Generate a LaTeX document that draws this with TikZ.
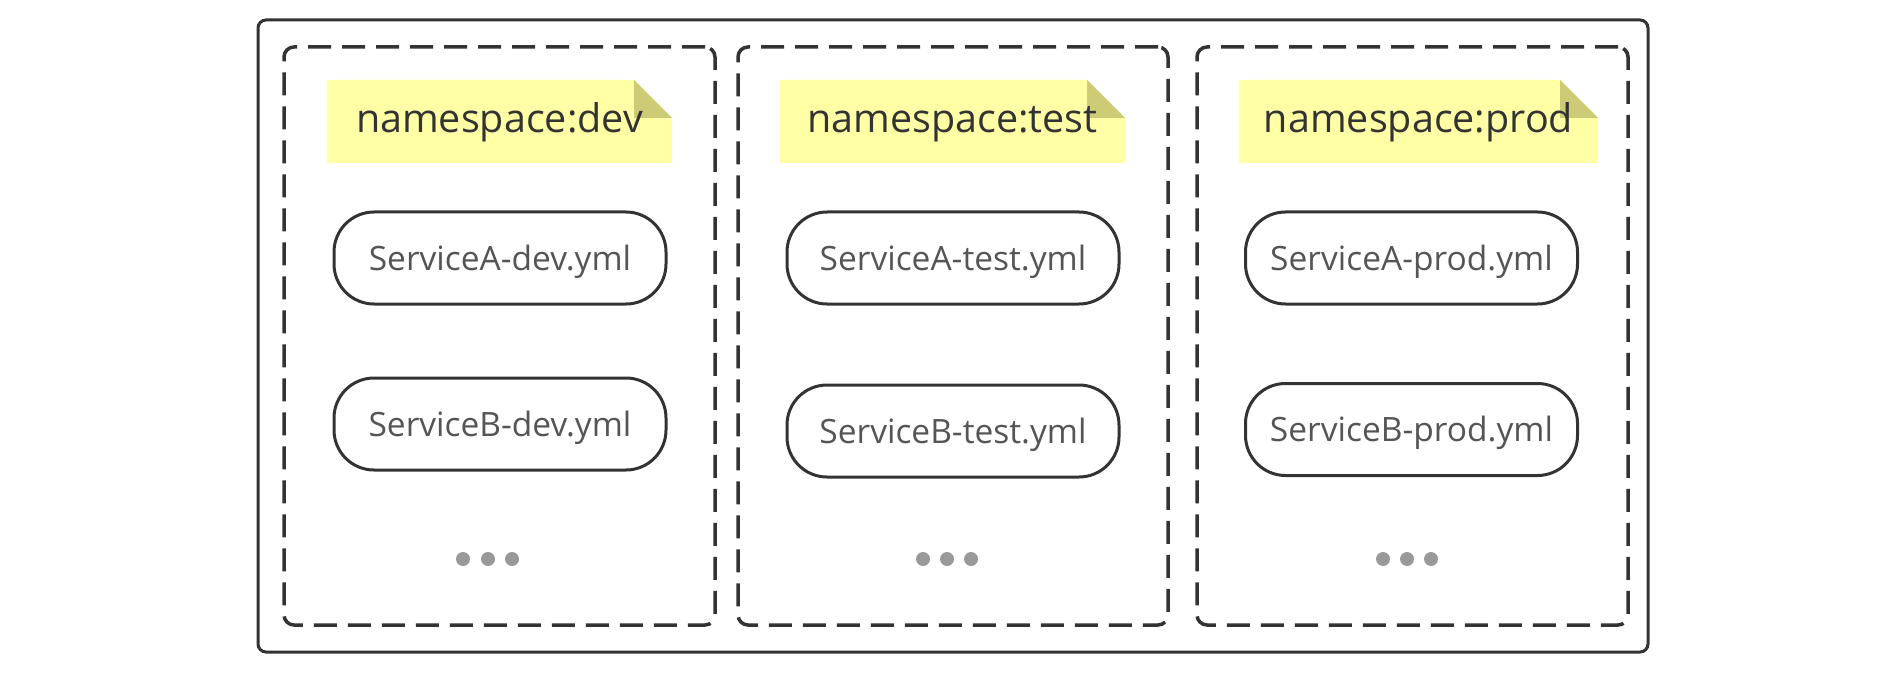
\documentclass[tikz,border=0pt]{standalone}
\usepackage{fontspec}
\setmainfont{Open Sans}
\definecolor{linec}{HTML}{333333}
\definecolor{notey}{HTML}{FFFFA6}
\definecolor{foldc}{HTML}{CCCC77}
\definecolor{dotc}{HTML}{999999}
\definecolor{txtc}{HTML}{555555}
\begin{document}
\begin{tikzpicture}[x=1pt,y=-1pt,
  outerbox/.style={draw=linec,line width=3pt,rounded corners=8pt},
  nsbox/.style={draw=linec,line width=3.5pt,rounded corners=10pt,dash pattern=on 23pt off 11pt},
  notebox/.style={inner sep=0pt,text height=21pt,text depth=0pt,
    font=\fontsize{39.5}{44}\selectfont,text=linec},
  pill/.style={draw=linec,line width=3pt,rounded corners=40pt,minimum width=332pt,minimum height=92pt,
    inner sep=0pt,text height=24pt,text depth=0pt,font=\fontsize{33.5}{38}\selectfont,text=txtc},
  dotn/.style={circle,fill=dotc,inner sep=0pt,minimum size=14pt}
]
\useasboundingbox (0,0) rectangle (1882,687);
\fill[white] (0,0) rectangle (1882,687);
\node[outerbox,minimum width=1390pt,minimum height=632pt,inner sep=0pt] (outer) at (953,336) {};
% namespace boxes
\node[nsbox,minimum width=431pt,minimum height=578pt,inner sep=0pt] (bdev) at (499.5,336) {};
\node[nsbox,minimum width=430pt,minimum height=578pt,inner sep=0pt] (btest) at (953,336) {};
\node[nsbox,minimum width=431pt,minimum height=578pt,inner sep=0pt] (bprod) at (1412.5,336) {};
% note backgrounds
\foreach \cx/\hw in {499.5/172.5, 952.5/172.5, 1418.5/179.5}{
  \fill[notey] (\cx-\hw,80) -- (\cx+\hw-38,80) -- (\cx+\hw,118) -- (\cx+\hw,163) -- (\cx-\hw,163) -- cycle;
  \fill[foldc] (\cx+\hw-38,80) -- (\cx+\hw,118) -- (\cx+\hw-38,118) -- cycle;
}
\node[notebox] (ndev) at (499.5,122) {namespace:dev};
\node[notebox] (ntest) at (952.5,122) {namespace:test};
\node[notebox] (nprod) at (1418.5,122) {namespace:prod};
% services
\node[pill] (adev) at (500,258) {ServiceA-dev.yml};
\node[pill] (bdevs) at (500,424) {ServiceB-dev.yml};
\node[pill] (atest) at (953,258) {ServiceA-test.yml};
\node[pill] (btests) at (953,431) {ServiceB-test.yml};
\node[pill] (aprod) at (1411.5,258) {ServiceA-prod.yml};
\node[pill] (bprods) at (1411.5,429.5) {ServiceB-prod.yml};
% dots
\foreach \x [count=\i] in {463,488,512}{\node[dotn] (ddev\i) at (\x,559) {};}
\foreach \x [count=\i] in {923,947,971}{\node[dotn] (dtest\i) at (\x,559) {};}
\foreach \x [count=\i] in {1383,1407,1431}{\node[dotn] (dprod\i) at (\x,559) {};}
\end{tikzpicture}
\end{document}
